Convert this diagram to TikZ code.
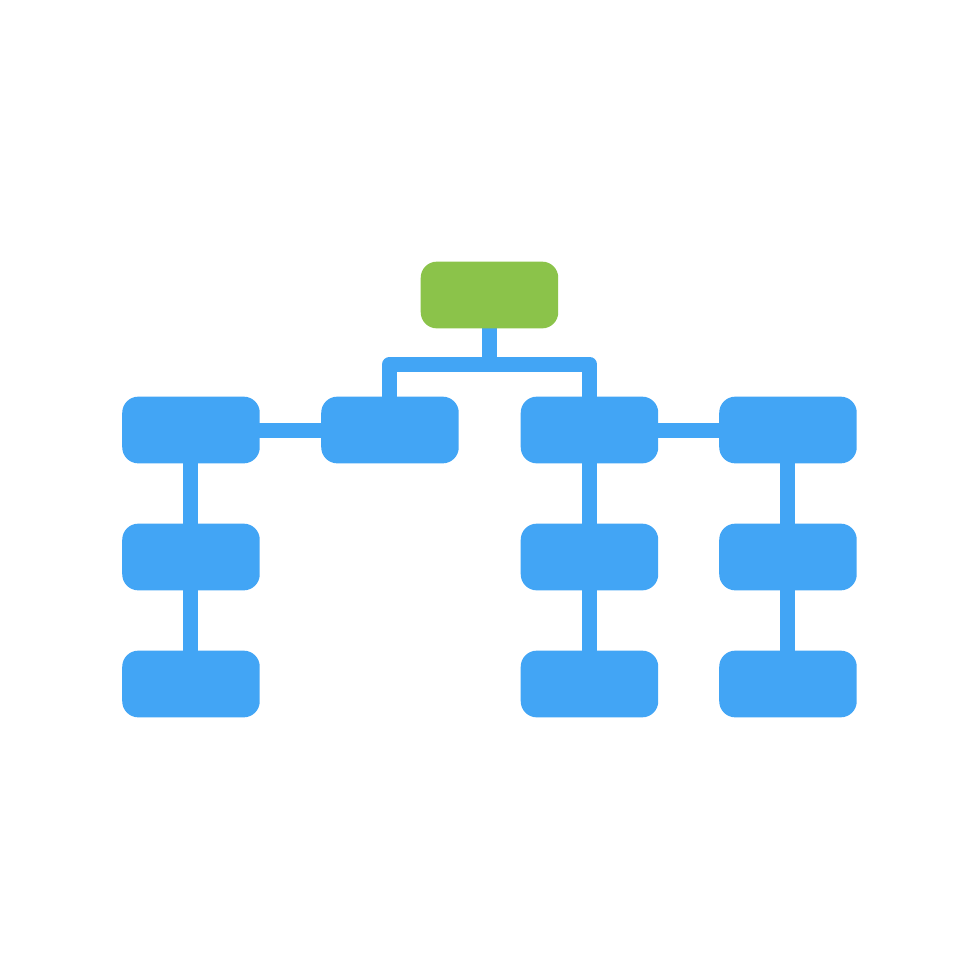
\documentclass[tikz,border=0pt]{standalone}
\usetikzlibrary{backgrounds}
\definecolor{leafblue}{HTML}{42A5F5}
\definecolor{rootgreen}{HTML}{8BC34A}
\begin{document}
\begin{tikzpicture}[
	box/.style={rectangle, rounded corners=0.16cm, minimum width=1.375cm, minimum height=0.667cm, inner sep=0pt, fill=leafblue},
	rootbox/.style={box, fill=rootgreen},
	link/.style={line width=0.15cm, color=leafblue, line join=round, shorten <=-2pt, shorten >=-2pt},
	]
	%canvas
	\useasboundingbox (0,0) rectangle (9.8,9.8);
	
	%boxes
	\node[rootbox] (root) at (4.895,6.85) {};
	\node[box] (a1) at (1.91,5.50) {};
	\node[box] (b1) at (3.90,5.50) {};
	\node[box] (c1) at (5.895,5.50) {};
	\node[box] (d1) at (7.88,5.50) {};
	\node[box] (a2) at (1.91,4.23) {};
	\node[box] (c2) at (5.895,4.23) {};
	\node[box] (d2) at (7.88,4.23) {};
	\node[box] (a3) at (1.91,2.96) {};
	\node[box] (c3) at (5.895,2.96) {};
	\node[box] (d3) at (7.88,2.96) {};
	\coordinate (fork) at (4.895,6.16);
	
	%links
	\begin{pgfonlayer}{background}
	\draw[link] (root.south) -- (fork);
	\draw[link] (b1.north) |- (fork) -| (c1.north);
	\draw[link] (a1.east) -- (b1.west);
	\draw[link] (c1.east) -- (d1.west);
	\draw[link] (a1.south) -- (a2.north);
	\draw[link] (a2.south) -- (a3.north);
	\draw[link] (c1.south) -- (c2.north);
	\draw[link] (c2.south) -- (c3.north);
	\draw[link] (d1.south) -- (d2.north);
	\draw[link] (d2.south) -- (d3.north);
	\end{pgfonlayer}
\end{tikzpicture}
\end{document}
